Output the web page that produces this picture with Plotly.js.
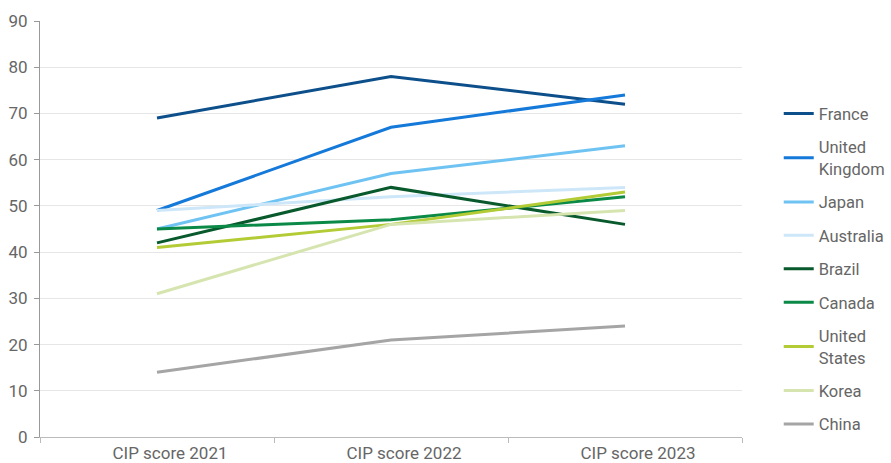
<!DOCTYPE html>
<html><head><meta charset="utf-8">
<script src="https://cdn.plot.ly/plotly-3.0.1.min.js"></script>
<style>body{margin:0;padding:0;background:#fff}#c{width:891px;height:463px}</style>
</head><body><div id="c"></div>
<script>
const categories = ["CIP score 2021", "CIP score 2022", "CIP score 2023"];
const seriesNames = ["France", "United<br>Kingdom", "Japan", "Australia", "Brazil", "Canada", "United<br>States", "Korea", "China"];
const france = [69, 78, 72];
const uk = [49, 67, 74];
const japan = [45, 57, 63];
const australia = [49, 52, 54];
const brazil = [42, 54, 46];
const canada = [45, 47, 52];
const us = [41, 46, 53];
const korea = [31, 46, 49];
const china = [14, 21, 24];
const colors = ["#0d4f8b", "#1479d9", "#6ec3f2", "#cde7f9", "#08592c", "#0b8a47", "#b3cb34", "#d6e5b0", "#a5a5a5"];
const values = [france, uk, japan, australia, brazil, canada, us, korea, china];

const traces = values.map((v, i) => ({
  x: categories, y: v, name: seriesNames[i], type: "scatter", mode: "lines",
  legendgroup: "g" + i,
  line: {color: colors[i], width: 3}
}));

const layout = {
  width: 891, height: 463,
  margin: {l: 40, r: 149, t: 21, b: 26},
  paper_bgcolor: "#fff", plot_bgcolor: "#fff",
  font: {family: "Roboto, sans-serif", size: 17, color: "#666"},
  showlegend: true,
  legend: {xref: "container", yref: "container", x: 0.874, xanchor: "left", y: 0.792, yanchor: "top",
           maxheight: 463, font: {size: 16.5, color: "#666"},
           traceorder: "grouped", tracegroupgap: 9, itemwidth: 30},
  xaxis: {
    type: "category", range: [-0.5, 2.5], showline: true, linecolor: "#bbb", linewidth: 1,
    ticks: "outside", tickson: "boundaries", ticklen: 5, tickcolor: "#bbb",
    showgrid: false, ticklabelshift: 13, ticklabelstandoff: 1, tickfont: {size: 17, color: "#666"}
  },
  yaxis: {
    range: [0, 90], dtick: 10, showline: true, linecolor: "#999", linewidth: 1,
    ticks: "outside", ticklen: 5, tickcolor: "#999", gridcolor: "#e6e6e6",
    ticklabelstandoff: 3,
    zeroline: false, tickfont: {size: 17, color: "#666"}
  }
};
Plotly.newPlot("c", traces, layout, {displayModeBar: false, staticPlot: true});
</script></body></html>
